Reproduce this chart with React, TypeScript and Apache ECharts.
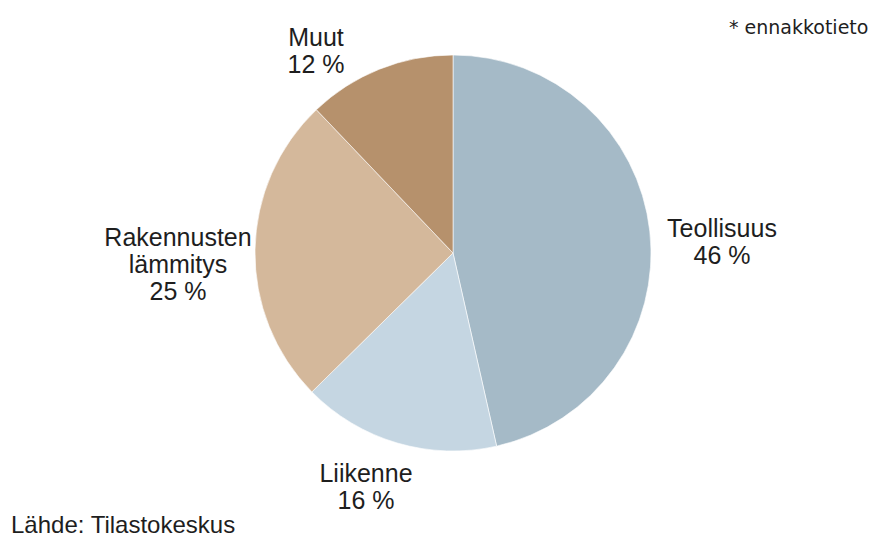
import React, { useEffect, useRef } from "react";
import * as echarts from "echarts";

const categories = ["Teollisuus", "Liikenne", "Rakennusten\nlämmitys", "Muut"];
const shares = [46, 16, 25, 12];
const sliceColors = ["#A5BAC7", "#C5D6E2", "#D4B89B", "#B6916C"];
const labelCenters: [number, number][] = [
  [722, 241],
  [366, 486],
  [178, 264],
  [316, 50],
];
const noteText = "* ennakkotieto";
const sourceText = "Lähde: Tilastokeskus";

export default function App() {
  const ref = useRef<HTMLDivElement>(null);
  useEffect(() => {
    document.body.style.margin = "0";
    const chart = echarts.init(ref.current!, null, { renderer: "svg" });
    chart.setOption({
      animation: false,
      backgroundColor: "#ffffff",
      textStyle: { fontFamily: "Liberation Sans, Arial, sans-serif" },
      graphic: [
        {
          type: "text",
          left: 729,
          top: 17,
          style: {
            text: noteText,
            fill: "#1e1e1e",
            font: "19px 'DejaVu Sans', sans-serif",
          },
        },
        {
          type: "text",
          left: 11,
          top: 512,
          style: {
            text: sourceText,
            fill: "#1e1e1e",
            font: "24px 'Liberation Sans', Arial, sans-serif",
          },
        },
      ],
      series: [
        {
          type: "pie",
          center: [453, 253],
          radius: 198,
          startAngle: 90,
          clockwise: true,
          label: {
            show: true,
            position: "outside",
            formatter: (p: any) => `${p.name}\n${p.value} %`,
            fontSize: 25,
            lineHeight: 27,
            color: "#1e1e1e",
            fontFamily: "Liberation Sans, Arial, sans-serif",
            align: "center",
          },
          labelLine: { show: false },
          labelLayout: (params: any) => {
            const c = labelCenters[params.dataIndex];
            return { x: c[0], y: c[1], align: "center", verticalAlign: "middle" };
          },
          itemStyle: { borderColor: "rgba(255,255,255,0.6)", borderWidth: 1 },
          emphasis: { disabled: true },
          data: categories.map((name, i) => ({
            name,
            value: shares[i],
            itemStyle: { color: sliceColors[i] },
          })),
        },
      ],
    });
    return () => chart.dispose();
  }, []);
  return <div ref={ref} style={{ width: 891, height: 539 }} />;
}
